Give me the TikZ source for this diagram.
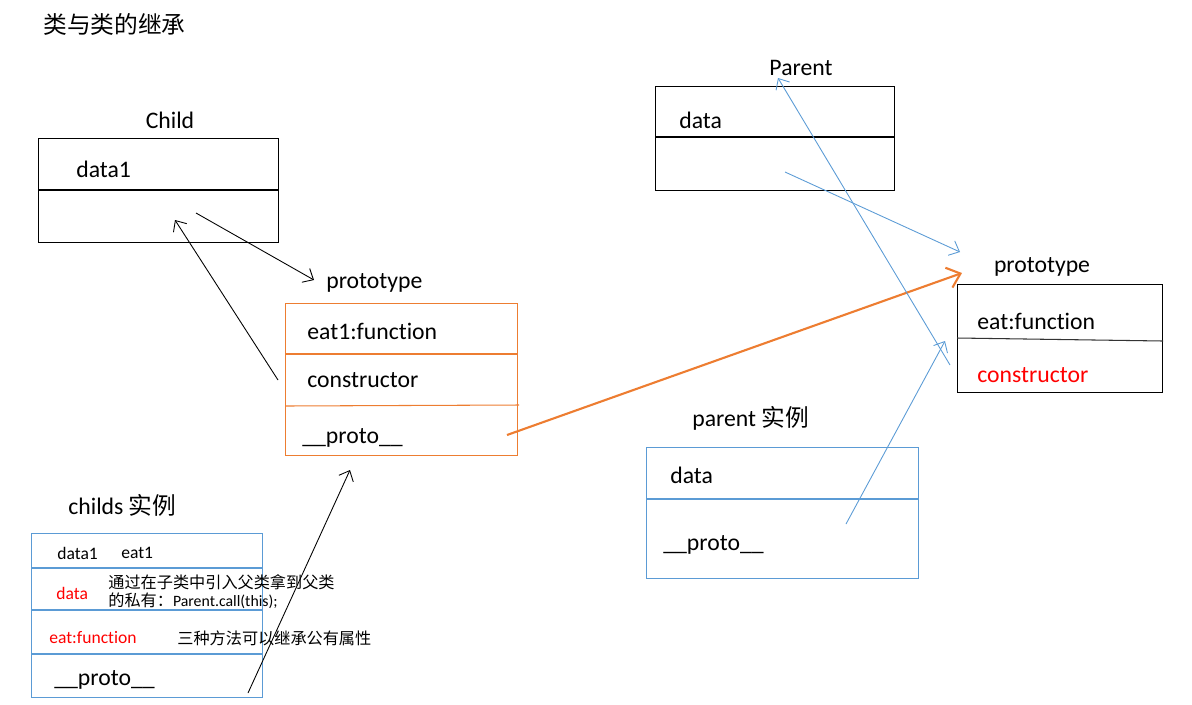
\documentclass[tikz,border=0pt]{standalone}
\usepackage{fontspec}
\setmainfont[Ligatures=NoCommon]{Carlito}
\newfontfamily\cjk{Noto Sans CJK SC}
\usetikzlibrary{arrows.meta}
\definecolor{boxorange}{RGB}{237,125,49}
\definecolor{boxblue}{RGB}{91,155,213}

\begin{document}
\begin{tikzpicture}[x=0.02cm,y=-0.02cm]
    \tikzstyle{every node} = [font=\fontsize{13.5}{16}\selectfont, inner sep=0pt]
    \tikzstyle{box} = [draw, rectangle, anchor=north west, line width=0.6pt]
    \tikzstyle{entry} = [anchor=west]
    \tikzstyle{small} = [anchor=west, font=\fontsize{10}{12}\selectfont]
    \tikzstyle{note} = [anchor=west, font=\fontsize{9.2}{11}\cjk]
    \tikzstyle{link} = [-{Straight Barb[length=5pt,width=9pt]}, line width=0.5pt]
    \useasboundingbox (0,0) rectangle (1192,704);

    % title
    \node[entry] (title) at (43,24) {\cjk 类与类的继承};

    % place nodes
    \node[box, minimum width=4.8cm, minimum height=2.08cm] (child) at (38,138) {};
    \node (childLabel) at (170,120) {Child};
    \node[entry] (childData) at (76,169) {data1};
    \draw[line width=0.6pt] (child.west |- 0,190) -- (child.east |- 0,190);

    \node[box, draw=boxorange, minimum width=4.64cm, minimum height=3.04cm] (cproto) at (285,303) {};
    \node[entry] (cprotoLabel) at (326,283) {prototype};
    \node[entry] (cprotoEat) at (307,331) {eat1:function};
    \node[entry] (cprotoCtor) at (307,380) {constructor};
    \node[entry] (cprotoProto) at (302,438) {\_\_proto\_\_};
    \draw[boxorange, line width=0.6pt] (cproto.west |- 0,354) -- (cproto.east |- 0,354);
    \draw[boxorange, line width=0.6pt] (cproto.west |- 0,406) -- (519,405);

    \node[box, draw=boxblue, minimum width=4.62cm, minimum height=3.28cm] (childs) at (31,533) {};
    \node[entry] (childsLabel) at (68,505) {childs {\cjk 实例}};
    \node[small] (childsData) at (57,553) {data1};
    \node[small] (childsEat) at (121,553) {eat1};
    \node[small, red] (childsPriv) at (56,593) {data};
    \node[note] (noteA) at (108,582) {通过在子类中引入父类拿到父类};
    \node[note] (noteB) at (108,601) {的私有：{\fontsize{9}{11}\selectfont\rmfamily Parent.call(this);}};
    \node[small, red] (childsFun) at (49,638) {eat:function};
    \node[note] (noteC) at (177,638) {三种方法可以继承公有属性};
    \node[entry] (childsProto) at (54,680) {\_\_proto\_\_};
    \draw[boxblue, line width=0.6pt] (childs.west |- 0,568) -- (childs.east |- 0,568);
    \draw[boxblue, line width=0.6pt] (childs.west |- 0,610) -- (childs.east |- 0,610);
    \draw[boxblue, line width=0.6pt] (childs.west |- 0,654) -- (childs.east |- 0,654);

    \node[box, minimum width=4.78cm, minimum height=2.08cm] (parent) at (655,86) {};
    \node (parentLabel) at (801,68) {Parent};
    \node[entry] (parentData) at (679,120) {data};
    \draw[line width=0.6pt] (parent.west |- 0,137) -- (parent.east |- 0,137);

    \node[box, minimum width=4.1cm, minimum height=2.16cm] (pproto) at (957,284) {};
    \node (pprotoLabel) at (1042,267) {prototype};
    \node[entry] (pprotoEat) at (977,321) {eat:function};
    \node[entry, red] (pprotoCtor) at (977,375) {constructor};
    \draw[line width=0.6pt, black!80] (pproto.west |- 0,338) -- (pproto.east |- 0,341);

    \node[box, draw=boxblue, minimum width=5.44cm, minimum height=2.62cm] (pinst) at (646,447) {};
    \node[entry] (pinstLabel) at (692,418) {parent {\cjk 实例}};
    \node[entry] (pinstData) at (670,475) {data};
    \node[entry] (pinstProto) at (663,545) {\_\_proto\_\_};
    \draw[boxblue, line width=0.6pt] (pinst.west |- 0,499) -- (pinst.east |- 0,499);

    % arrow ends
    \coordinate (childTail) at (196,213);
    \coordinate (cprotoHead) at (314,280);
    \coordinate (ctorTail) at (278,380);
    \coordinate (childHead) at (175,220);
    \coordinate (childsTail) at (248,693);
    \coordinate (cprotoLow) at (350,470);
    \coordinate (protoTail) at (507,435);
    \coordinate (pprotoHead) at (962,273);
    \coordinate (parentTail) at (785,172);
    \coordinate (pprotoTop) at (960,252);
    \coordinate (pctorTail) at (950,365);
    \coordinate (parentHead) at (778,78);
    \coordinate (pinstTail) at (846,524);
    \coordinate (pprotoSide) at (945,341);

    % Connections
    \draw[link] (childTail) -- (cprotoHead);
    \draw[link] (ctorTail) -- (childHead);
    \draw[link] (childsTail) -- (cprotoLow);
    \draw[-{Straight Barb[length=7pt,width=12pt]}, boxorange, line width=1.2pt] (protoTail) -- (pprotoHead);
    \draw[link, boxblue] (parentTail) -- (pprotoTop);
    \draw[link, boxblue] (pctorTail) -- (parentHead);
    \draw[link, boxblue] (pinstTail) -- (pprotoSide);
\end{tikzpicture}
\end{document}
